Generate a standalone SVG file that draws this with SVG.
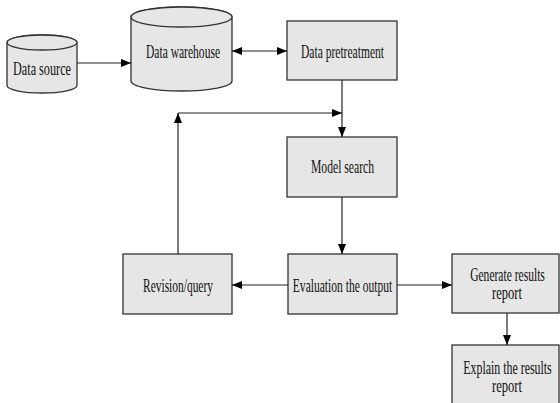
<svg xmlns="http://www.w3.org/2000/svg" width="560" height="403" viewBox="0 0 560 403">
<defs>
<marker id="ah" viewBox="0 0 10 8" refX="10" refY="4" markerWidth="10" markerHeight="8" markerUnits="userSpaceOnUse" orient="auto-start-reverse">
<path d="M0,0 L10,4 L0,8 Z" fill="#000"/>
</marker>
<style>
.box{fill:#e6e6e6;stroke:#333;stroke-width:1.3}
.lbl{font-family:"Liberation Serif","Times New Roman","DejaVu Serif",serif;font-size:18px;fill:#111;text-anchor:middle}
.con{stroke:#222;stroke-width:1.2;fill:none}
</style>
</defs>
<rect width="560" height="403" fill="#fff"/>
<g id="data-source">
<path class="box" d="M7,42.5 L7,85.5 A35,7.5 0 0 0 77,85.5 L77,42.5 A35,7.5 0 0 0 7,42.5 Z"/>
<ellipse class="box" cx="42" cy="42.5" rx="35" ry="7.5"/>
<text class="lbl" transform="translate(42,75) scale(0.68,1)">Data source</text>
</g>
<g id="data-warehouse">
<path class="box" d="M131,17 L131,81 A50.5,10 0 0 0 232,81 L232,17 A50.5,10 0 0 0 131,17 Z"/>
<ellipse class="box" cx="181.5" cy="17" rx="50.5" ry="10"/>
<text class="lbl" transform="translate(183,58) scale(0.642,1)">Data warehouse</text>
</g>
<g id="data-pretreatment">
<rect class="box" x="287" y="21" width="110" height="59"/>
<text class="lbl" transform="translate(342.5,58) scale(0.642,1)">Data pretreatment</text>
</g>
<g id="model-search">
<rect class="box" x="287" y="137" width="110" height="60"/>
<text class="lbl" transform="translate(342.5,173) scale(0.647,1)">Model search</text>
</g>
<g id="evaluation">
<rect class="box" x="288" y="254" width="109" height="60"/>
<text class="lbl" transform="translate(342.5,292) scale(0.642,1)">Evaluation the output</text>
</g>
<g id="revision">
<rect class="box" x="123" y="254" width="109" height="60"/>
<text class="lbl" transform="translate(178,292) scale(0.636,1)">Revision/query</text>
</g>
<g id="generate">
<rect class="box" x="452" y="254" width="107" height="59"/>
<text class="lbl" transform="translate(507.5,280.5) scale(0.642,1)">Generate results</text>
<text class="lbl" transform="translate(507,298.5) scale(0.7,1)">report</text>
</g>
<g id="explain">
<rect class="box" x="452" y="345" width="107" height="62"/>
<text class="lbl" transform="translate(507.5,373.5) scale(0.66,1)">Explain the results</text>
<text class="lbl" transform="translate(507,391.5) scale(0.7,1)">report</text>
</g>
<g id="connectors">
<line class="con" x1="77" y1="63" x2="131" y2="63" marker-end="url(#ah)"/>
<line class="con" x1="232" y1="51" x2="287" y2="51" marker-start="url(#ah)" marker-end="url(#ah)"/>
<line class="con" x1="342" y1="80" x2="342" y2="137" marker-end="url(#ah)"/>
<line class="con" x1="178" y1="254" x2="178" y2="113" marker-end="url(#ah)"/>
<line class="con" x1="178" y1="113" x2="342" y2="113" marker-end="url(#ah)"/>
<line class="con" x1="342" y1="197" x2="342" y2="254" marker-end="url(#ah)"/>
<line class="con" x1="288" y1="285" x2="232" y2="285" marker-end="url(#ah)"/>
<line class="con" x1="397" y1="285" x2="452" y2="285" marker-end="url(#ah)"/>
<line class="con" x1="507" y1="313" x2="507" y2="345" marker-end="url(#ah)"/>
</g>
</svg>
